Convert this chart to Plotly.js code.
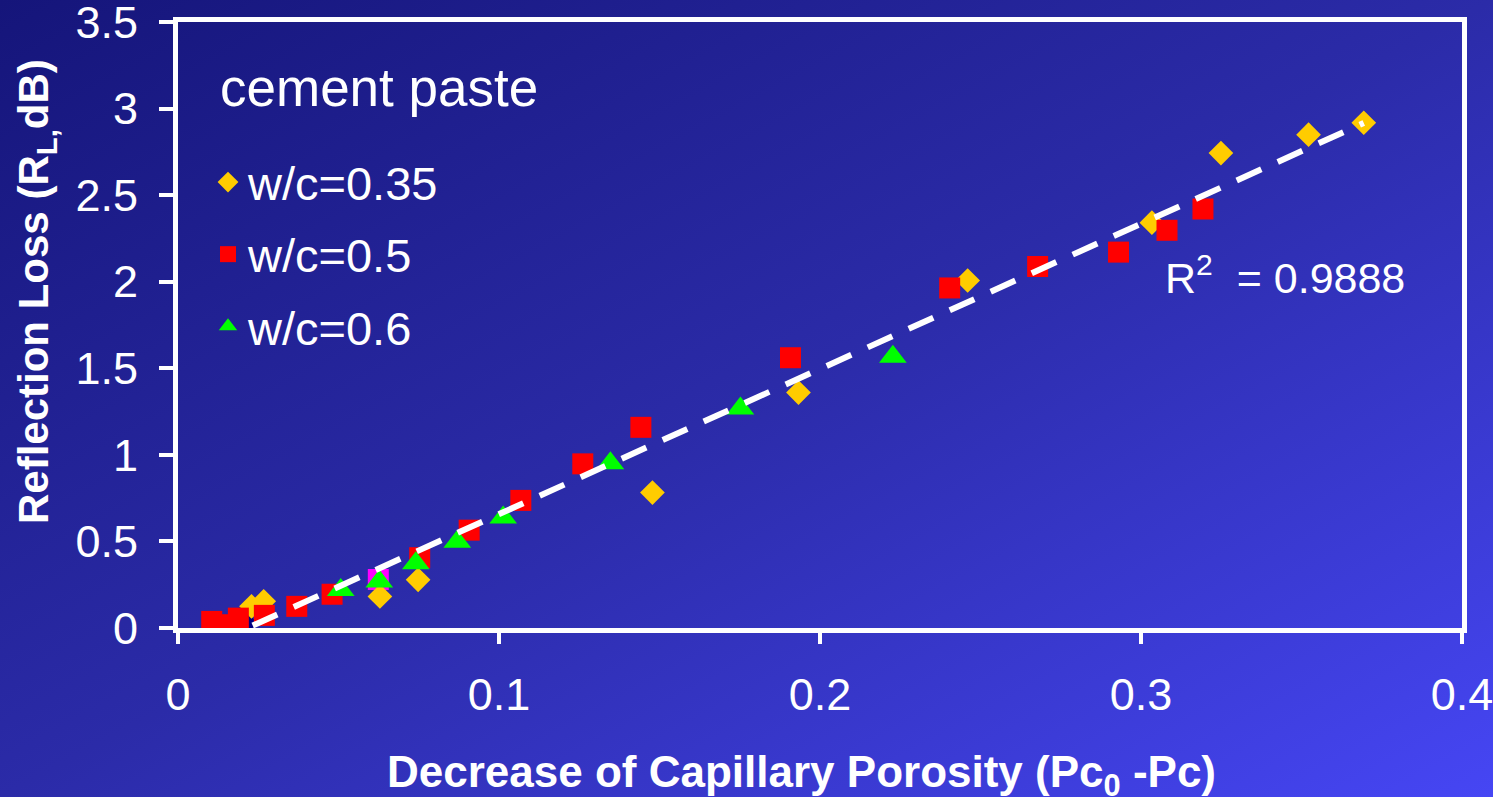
<!DOCTYPE html>
<html>
<head>
<meta charset="utf-8">
<script src="https://cdn.plot.ly/plotly-3.0.1.min.js"></script>
<style>
html,body{margin:0;padding:0;width:1493px;height:797px;overflow:hidden;
background:linear-gradient(to bottom right,#15157a 0%,#2b2ba8 50%,#4646f4 100%);}
#chart{width:1493px;height:797px;}
</style>
</head>
<body>
<div id="chart"></div>
<script>
// ---- data ----
const seriesNames = ['w/c=0.35', 'w/c=0.5', 'w/c=0.6'];

const wc035_x = [0.0229, 0.0267, 0.0629, 0.0748, 0.1478, 0.1933, 0.2460, 0.3034, 0.3249, 0.3522, 0.3694];
const wc035_y = [0.125, 0.154, 0.182, 0.278, 0.782, 1.360, 2.007, 2.341, 2.743, 2.849, 2.918];

const wc05_x = [0.0105, 0.0136, 0.0188, 0.0269, 0.0370, 0.0480, 0.0753, 0.0907, 0.1068, 0.1261, 0.1442, 0.1908, 0.2404, 0.2678, 0.2930, 0.3081, 0.3193];
const wc05_y = [0.038, 0.019, 0.057, 0.073, 0.125, 0.195, 0.406, 0.565, 0.737, 0.948, 1.159, 1.561, 1.964, 2.088, 2.171, 2.297, 2.420];

const wc06_x = [0.0507, 0.0627, 0.0741, 0.0870, 0.1013, 0.1347, 0.1752, 0.2227];
const wc06_y = [0.220, 0.268, 0.374, 0.498, 0.638, 0.952, 1.268, 1.567];

// partly hidden extra points (no legend entry)
const hiddenNavy_x = [0.0209];
const hiddenNavy_y = [0.030];
const hiddenMagenta_x = [0.0624];
const hiddenMagenta_y = [0.280];

const xTicks = [0, 0.1, 0.2, 0.3, 0.4];
const yTicks = [0, 0.5, 1, 1.5, 2, 2.5, 3, 3.5];
const legendTitle = 'cement paste';
const xTitle = 'Decrease of Capillary Porosity (Pc<sub>0</sub> -Pc)';
const yTitle = 'Reflection Loss (R<sub>L,</sub>dB)';
const r2Text = 'R<sup>2</sup>  = 0.9888';

// ---- linear least-squares trendline over all plotted series ----
const allX = wc035_x.concat(wc05_x, wc06_x);
const allY = wc035_y.concat(wc05_y, wc06_y);
const n = allX.length;
const mx = allX.reduce((a,b)=>a+b,0)/n;
const my = allY.reduce((a,b)=>a+b,0)/n;
let sxy = 0, sxx = 0;
for (let i=0;i<n;i++){ sxy += (allX[i]-mx)*(allY[i]-my); sxx += (allX[i]-mx)*(allX[i]-mx); }
const slope = sxy/sxx, intercept = my - slope*mx;
const xmin = Math.min(...allX), xmax = Math.max(...allX);
const trendX = [xmin, xmax];
const trendY = trendX.map(v => slope*v + intercept);

const FONT = 'Liberation Sans, Arial, sans-serif';

const traces = [
  {x: hiddenNavy_x, y: hiddenNavy_y, mode:'markers', type:'scatter', showlegend:false,
   marker:{symbol:'diamond', size:19, color:'#000080'}},
  {x: hiddenMagenta_x, y: hiddenMagenta_y, mode:'markers', type:'scatter', showlegend:false,
   marker:{symbol:'square', size:21, color:'#FF00FF'}},
  {x: wc035_x, y: wc035_y, name: seriesNames[0], mode:'markers', type:'scatter', legendgroup:'a',
   marker:{symbol:'diamond', size:19, color:'#FFCC00'}},
  {x: wc05_x, y: wc05_y, name: seriesNames[1], mode:'markers', type:'scatter', legendgroup:'b',
   marker:{symbol:'square', size:21, color:'#FF0000'}},
  {x: wc06_x, y: wc06_y, name: seriesNames[2], mode:'markers', type:'scatter', legendgroup:'c',
   marker:{symbol:'triangle-up', size:24, color:'#00FF00'}},
  {x: trendX, y: trendY, mode:'lines', type:'scatter', showlegend:false,
   line:{color:'#FFFFFF', width:6, dash:'27px,18px'}}
];

const axisCommon = {
  showgrid:false, zeroline:false, showline:true, mirror:true,
  linecolor:'#FFFFFF', linewidth:5, ticks:'outside', tickcolor:'#FFFFFF', tickwidth:4,
  tickfont:{family:FONT, size:45, color:'#FFFFFF'}, automargin:false,
  ticklabeloverflow:'allow'
};

// plot area in pixels: left 178, right 1462, top 22, bottom 628
const L = 178, R = 1462, T = 22, B = 628;
const px2paperX = p => (p - L) / (R - L);
const px2paperY = p => (B - p) / (B - T);

const layout = {
  width:1493, height:797,
  paper_bgcolor:'rgba(0,0,0,0)', plot_bgcolor:'rgba(0,0,0,0)',
  margin:{l:L, r:1493-R, t:T, b:797-B},
  font:{family:FONT, color:'#FFFFFF'},
  xaxis: Object.assign({}, axisCommon, {
    range:[0,0.4], tickvals:xTicks, ticktext:xTicks.map(String), ticklen:11,
    ticklabelstandoff:12
  }),
  yaxis: Object.assign({}, axisCommon, {
    range:[0,3.5], tickvals:yTicks, ticktext:yTicks.map(String), ticklen:14,
    ticklabelstandoff:12
  }),
  legend:{
    x:px2paperX(208), y:px2paperY(145), xanchor:'left', yanchor:'top',
    bgcolor:'rgba(0,0,0,0)', borderwidth:0,
    font:{family:FONT, size:47, color:'#FFFFFF'},
    tracegroupgap:8, itemsizing:'trace'
  },
  annotations:[
    {x:px2paperX(218), y:px2paperY(88), xref:'paper', yref:'paper', xanchor:'left', yanchor:'middle',
     text:legendTitle, showarrow:false, font:{family:FONT, size:53, color:'#FFFFFF'}},
    {x:0.307, y:2.04, xref:'x', yref:'y', xanchor:'left', yanchor:'middle',
     text:r2Text, showarrow:false, font:{family:FONT, size:43, color:'#FFFFFF'}},
    {x:px2paperX(801), y:px2paperY(775), xref:'paper', yref:'paper', xanchor:'center', yanchor:'middle',
     text:xTitle, showarrow:false, font:{family:FONT, size:44, color:'#FFFFFF', weight:'bold'}},
    {x:px2paperX(37), y:px2paperY(292), xref:'paper', yref:'paper', xanchor:'center', yanchor:'middle',
     textangle:-90, text:yTitle, showarrow:false, font:{family:FONT, size:42, color:'#FFFFFF', weight:'bold'}}
  ],
  showlegend:true
};

Plotly.newPlot('chart', traces, layout, {displayModeBar:false, staticPlot:true});
</script>
</body>
</html>
